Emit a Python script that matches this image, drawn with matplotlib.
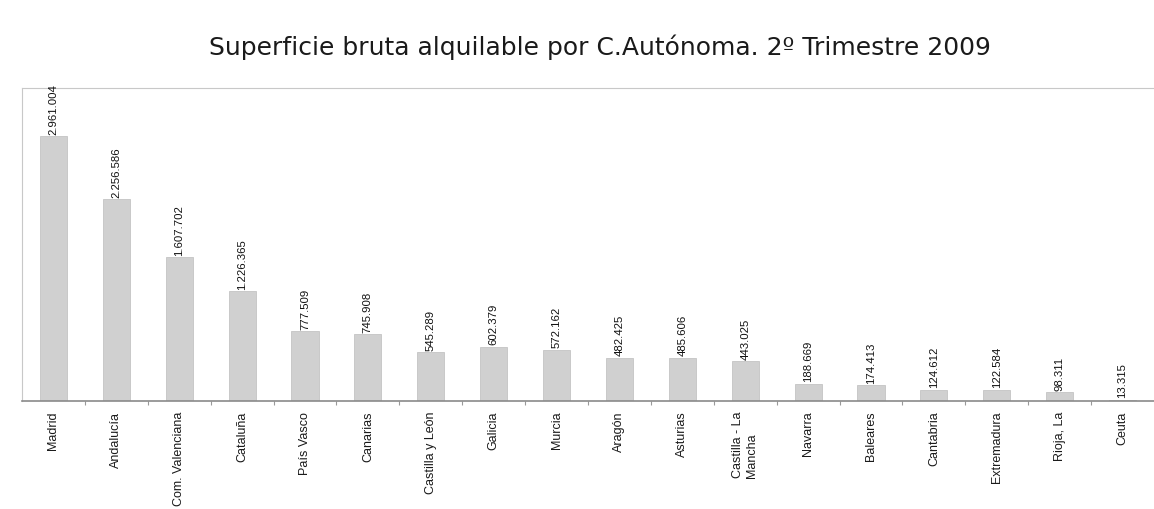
import matplotlib.pyplot as plt

plt.rcParams['font.family'] = ['Liberation Sans', 'DejaVu Sans']

regiones = ['Madrid', 'Andalucía', 'Com. Valenciana', 'Cataluña', 'País Vasco',
            'Canarias', 'Castilla y León', 'Galicia', 'Murcia', 'Aragón',
            'Asturias', 'Castilla - La\nMancha', 'Navarra', 'Baleares', 'Cantabria',
            'Extremadura', 'Rioja, La', 'Ceuta']
superficie = [2961004, 2256586, 1607702, 1226365, 777509, 745908, 545289, 602379,
              572162, 482425, 485606, 443025, 188669, 174413, 124612, 122584,
              98311, 13315]


def fmt(v):
    return f'{v:,}'.replace(',', '.')


fig = plt.figure(figsize=(11.54, 5.10), dpi=100)
ax = fig.add_axes([22 / 1154, 1 - 402 / 510, 1 - 22 / 1154, 313 / 510])

x = list(range(len(regiones)))
ax.bar(x, superficie, width=0.43, color='#d0d0d0', edgecolor='#c4c4c4', linewidth=0.6)

# etiquetas de valor encima de cada barra
for xi, v in zip(x, superficie):
    ax.text(xi, v + 30000, fmt(v), rotation=90, ha='center', va='bottom',
            fontsize=8.2, color='#111111')

ax.set_xlim(-0.5, len(regiones) - 0.5)
ax.set_ylim(0, 3500000)
ax.set_yticks([])
ax.set_xticks(x)
ax.set_xticklabels(regiones, rotation=90, fontsize=9, color='#1a1a1a',
                   va='top', ha='center', multialignment='left')
ax.tick_params(axis='x', length=0, pad=7)
ax.set_xticks([i + 0.5 for i in x[:-1]], minor=True)
ax.tick_params(axis='x', which='minor', length=3, color='#999999', width=0.8)

ax.spines['right'].set_visible(False)
ax.spines['top'].set_color('#c8c8c8')
ax.spines['left'].set_color('#c8c8c8')
ax.spines['bottom'].set_color('#8a8a8a')
ax.spines['bottom'].set_linewidth(1.2)

fig.text(0.52, 1 - 47 / 510, 'Superficie bruta alquilable por C.Autónoma. 2º Trimestre 2009',
         ha='center', va='center', fontsize=18, color='#1a1a1a',
         family=['DejaVu Sans'])

fig.savefig('out.png', dpi=100)
